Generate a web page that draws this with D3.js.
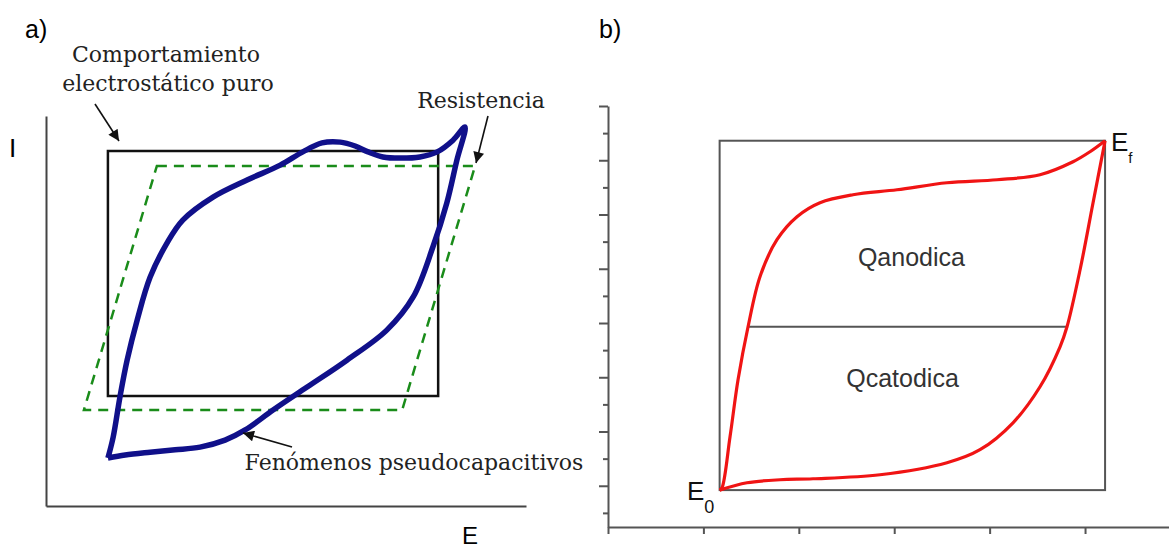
<!DOCTYPE html>
<html>
<head>
<meta charset="utf-8">
<script src="https://cdnjs.cloudflare.com/ajax/libs/d3/7.8.5/d3.min.js"></script>
<style>
body { margin: 0; background: #fff; }
</style>
</head>
<body>
<script>
// ---- datos panel a) (E e I en unidades arbitrarias, 0-100) ----
var puroE = [12.9, 81.7, 81.7, 12.9];
var puroI = [91.0, 91.0, 28.2, 28.2];
var resistenciaE = [23.1, 89.4, 74.2, 7.9];
var resistenciaI = [87.2, 87.2, 24.6, 24.6];
// ciclo pseudocapacitivo: rama de ida (abajo) y vuelta (arriba)
var pseudoE = [12.9, 16.5, 21.7, 26.9, 32.1, 37.3, 41.5, 47.3, 54.4, 62.7, 71.0, 76.5, 80.6, 83.5, 85.6, 87.3,
	84.8, 81.5, 77.9, 73.8, 70.2, 67.1, 64.4, 61.3, 57.5, 53.5, 48.8, 41.9, 34.8, 28.5, 25.2, 21.7, 19.0, 16.9, 15.4, 14.0, 12.9];
var pseudoI = [12.3, 13.1, 13.8, 14.4, 15.1, 16.9, 19.5, 24.6, 30.5, 37.4, 45.1, 53.6, 66.4, 77.7, 88.7, 97.2,
	93.8, 90.8, 89.5, 89.2, 89.5, 90.8, 92.3, 93.3, 93.1, 90.8, 87.4, 83.6, 79.2, 73.3, 67.4, 58.7, 47.7, 37.4, 27.9, 17.7, 12.3];

// ---- datos panel b) ----
var ticksX = [0, 1, 2, 3, 4, 5];
var ticksYMayor = [0, 1, 2, 3, 4, 5, 6, 7];
var ticksYMenor = [-0.5, 0.5, 1.5, 2.5, 3.5, 4.5, 5.5, 6.5];
var marcoE = [1.17, 5.21];
var marcoI = [-0.08, 6.36];
var divisionE = [1.47, 4.81];
var divisionI = 2.93;
var anodicaE = [1.17, 1.195, 1.279, 1.363, 1.468, 1.593, 1.771, 1.981, 2.222, 2.568, 3.029, 3.553, 4.078, 4.528, 4.874, 5.052, 5.21];
var anodicaI = [-0.08, -0.037, 0.903, 1.954, 2.931, 3.853, 4.535, 4.959, 5.217, 5.364, 5.456, 5.585, 5.641, 5.733, 5.972, 6.157, 6.36];
var catodicaE = [1.17, 1.457, 1.803, 2.149, 2.851, 3.553, 3.899, 4.245, 4.528, 4.738, 4.811, 4.948, 5.084, 5.21];
var catodicaI = [-0.08, 0.055, 0.111, 0.129, 0.203, 0.424, 0.664, 1.161, 1.825, 2.562, 2.931, 3.982, 5.217, 6.36];

// SVG
var width = 1169;
var height = 548;
var svg = d3.select("body").append("svg")
	.attr("width", width)
	.attr("height", height);

svg.append("defs").append("marker")
	.attr("id", "flecha")
	.attr("markerUnits", "userSpaceOnUse")
	.attr("viewBox", "0 0 10 10")
	.attr("refX", 10).attr("refY", 5)
	.attr("markerWidth", 12).attr("markerHeight", 11)
	.attr("orient", "auto")
	.append("path").attr("d", "M0,0 L10,5 L0,10 z").attr("fill", "#111");

// ================= panel a =================
var xA = d3.scaleLinear().domain([0, 100]).range([46, 526]);
var yA = d3.scaleLinear().domain([0, 100]).range([506, 116]);
var gA = svg.append("g");

gA.append("g").attr("transform", "translate(" + xA(0) + ",0)")
	.call(d3.axisLeft(yA).tickValues([]).tickSizeOuter(0));
gA.append("g").attr("transform", "translate(0," + yA(0) + ")")
	.call(d3.axisBottom(xA).tickValues([]).tickSizeOuter(0));
gA.selectAll(".domain").attr("stroke", "#444").attr("stroke-width", 2);

var puntos = (es, is) => es.map((e, i) => [e, is[i]]);
var lineaA = d3.line().x(d => xA(d[0])).y(d => yA(d[1]));

// comportamiento electrostático puro
gA.append("path")
	.attr("d", lineaA(puntos(puroE, puroI)) + "Z")
	.attr("fill", "none").attr("stroke", "#111").attr("stroke-width", 2.5);
// resistencia
gA.append("path")
	.attr("d", lineaA(puntos(resistenciaE, resistenciaI)) + "Z")
	.attr("fill", "none").attr("stroke", "#1a8c1a").attr("stroke-width", 2.5)
	.attr("stroke-dasharray", "10,7");
// pseudocapacitivo
gA.append("path")
	.attr("d", d3.line().x(d => xA(d[0])).y(d => yA(d[1])).curve(d3.curveCatmullRom.alpha(0.5))(puntos(pseudoE, pseudoI)))
	.attr("fill", "none").attr("stroke", "#10108a").attr("stroke-width", 5.5)
	.attr("stroke-linejoin", "round");

var serif = "DejaVu Serif";
var textosA = [
	{t: "Comportamiento", x: 166, y: 62},
	{t: "electrostático puro", x: 168, y: 91},
	{t: "Resistencia", x: 481, y: 108},
	{t: "Fenómenos pseudocapacitivos", x: 414, y: 470}
];
gA.selectAll("text.nota").data(textosA).enter().append("text")
	.attr("class", "nota")
	.attr("x", d => d.x).attr("y", d => d.y)
	.attr("text-anchor", "middle")
	.attr("font-family", serif).attr("font-size", 22)
	.attr("fill", "#222")
	.text(d => d.t);

var flechas = [
	[95, 104, 119, 141],
	[488, 116, 476, 163],
	[292, 447, 243, 433]
];
gA.selectAll("line.flecha").data(flechas).enter().append("line")
	.attr("x1", d => d[0]).attr("y1", d => d[1])
	.attr("x2", d => d[2]).attr("y2", d => d[3])
	.attr("stroke", "#111").attr("stroke-width", 1.6)
	.attr("marker-end", "url(#flecha)");

var sans = "Liberation Sans, Arial, sans-serif";
gA.append("text").attr("x", 25).attr("y", 38).attr("font-family", sans).attr("font-size", 25).text("a)");
gA.append("text").attr("x", 9).attr("y", 157).attr("font-family", sans).attr("font-size", 26).text("I");
gA.append("text").attr("x", 462).attr("y", 544).attr("font-family", sans).attr("font-size", 24).text("E");

// ================= panel b =================
var xB = d3.scaleLinear().domain([0, 5.88]).range([608, 1169]);
var yB = d3.scaleLinear().domain([-0.76, 7]).range([527, 106]);
var gB = svg.append("g");

gB.append("text").attr("x", 599).attr("y", 38).attr("font-family", sans).attr("font-size", 25).text("b)");

var ejeY = gB.append("g").attr("transform", "translate(" + xB(0) + ",0)")
	.call(d3.axisLeft(yB).tickValues(ticksYMayor).tickSize(9).tickSizeOuter(0).tickFormat(""));
var ejeYMenor = gB.append("g").attr("transform", "translate(" + xB(0) + ",0)")
	.call(d3.axisLeft(yB).tickValues(ticksYMenor).tickSize(5).tickSizeOuter(0).tickFormat(""));
ejeYMenor.select(".domain").remove();
var ejeX = gB.append("g").attr("transform", "translate(0," + yB(-0.76) + ")")
	.call(d3.axisBottom(xB).tickValues(ticksX).tickSize(7).tickSizeOuter(0).tickFormat(""));
gB.selectAll(".domain, .tick line").attr("stroke", "#555").attr("stroke-width", 2);

// marco
gB.append("rect")
	.attr("x", xB(marcoE[0])).attr("y", yB(marcoI[1]))
	.attr("width", xB(marcoE[1]) - xB(marcoE[0]))
	.attr("height", yB(marcoI[0]) - yB(marcoI[1]))
	.attr("fill", "none").attr("stroke", "#555").attr("stroke-width", 2);
gB.append("line")
	.attr("x1", xB(divisionE[0])).attr("x2", xB(divisionE[1]))
	.attr("y1", yB(divisionI)).attr("y2", yB(divisionI))
	.attr("stroke", "#555").attr("stroke-width", 2);

var lineaB = d3.line().x(d => xB(d[0])).y(d => yB(d[1])).curve(d3.curveCatmullRom.alpha(0.5));
gB.append("path").attr("d", lineaB(puntos(anodicaE, anodicaI)))
	.attr("fill", "none").attr("stroke", "#f01414").attr("stroke-width", 3.2);
gB.append("path").attr("d", lineaB(puntos(catodicaE, catodicaI)))
	.attr("fill", "none").attr("stroke", "#f01414").attr("stroke-width", 3.2);

gB.append("text").attr("x", xB(3.18)).attr("y", yB(4.22) + 9)
	.attr("text-anchor", "middle").attr("font-family", sans).attr("font-size", 25).attr("fill", "#333").text("Qanodica");
gB.append("text").attr("x", xB(3.087)).attr("y", yB(1.99) + 9)
	.attr("text-anchor", "middle").attr("font-family", sans).attr("font-size", 25).attr("fill", "#333").text("Qcatodica");

// E0 y Ef
var e0 = gB.append("text").attr("x", 687).attr("y", 500).attr("font-family", sans).attr("font-size", 26).attr("fill", "#111");
e0.append("tspan").text("E");
e0.append("tspan").attr("font-size", 18).attr("dy", 13).text("0");
var ef = gB.append("text").attr("x", 1111).attr("y", 151).attr("font-family", sans).attr("font-size", 26).attr("fill", "#111");
ef.append("tspan").text("E");
ef.append("tspan").attr("font-size", 15).attr("dy", 12).text("f");
</script>
</body>
</html>
